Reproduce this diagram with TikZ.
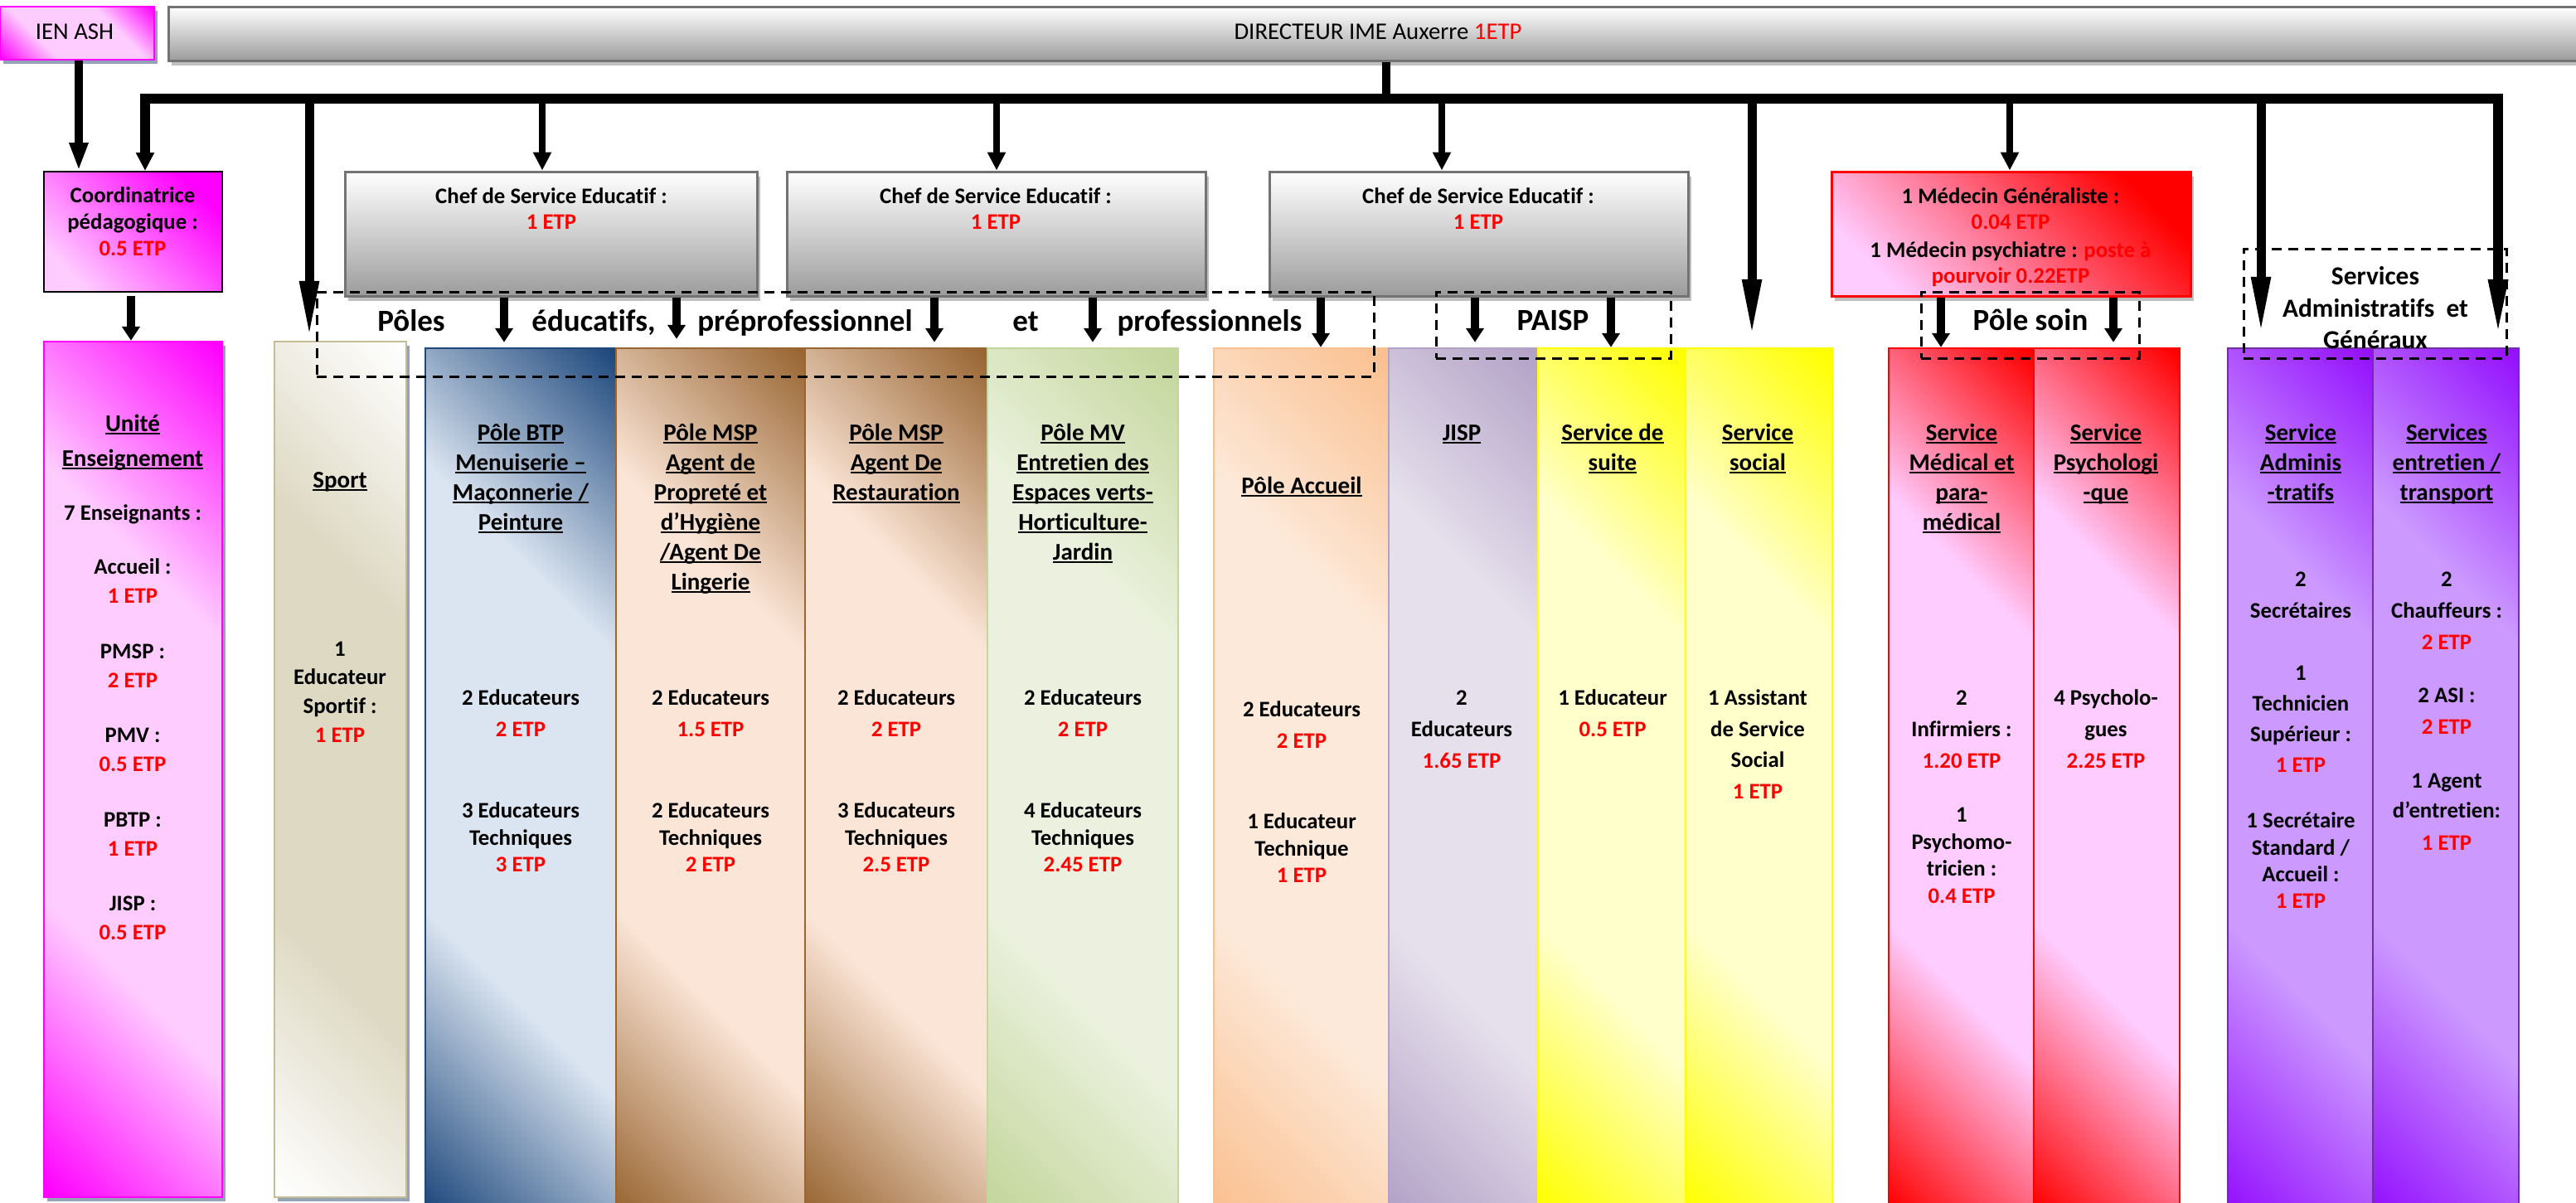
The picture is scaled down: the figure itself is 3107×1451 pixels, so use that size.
\documentclass[tikz,border=0pt]{standalone}
\usepackage{fontspec}
\setmainfont{Carlito}[Ligatures=NoCommon]
\usetikzlibrary{arrows.meta,fit,shadows}
\definecolor{etpred}{HTML}{FF0000}
\definecolor{magC}{HTML}{FF00FF}\definecolor{magL}{HTML}{FFCCFF}
\definecolor{begC}{HTML}{DDD9C3}\definecolor{begB}{HTML}{C4BD97}
\definecolor{bluC}{HTML}{1F497D}\definecolor{bluL}{HTML}{DBE5F1}
\definecolor{brnC}{HTML}{996633}\definecolor{brnL}{HTML}{FBE5D6}
\definecolor{grnC}{HTML}{C3D69B}\definecolor{grnL}{HTML}{EBF1DE}
\definecolor{orgC}{HTML}{FAC090}\definecolor{orgL}{HTML}{FDE9D9}
\definecolor{lavC}{HTML}{B3A2C7}\definecolor{lavL}{HTML}{E6E0EC}
\definecolor{yelC}{HTML}{FFFF00}\definecolor{yelL}{HTML}{FFFFCC}
\definecolor{redC}{HTML}{FF0000}\definecolor{redL}{HTML}{FFCCFF}
\definecolor{purC}{HTML}{9410FF}\definecolor{purL}{HTML}{CC99FF}\definecolor{purB}{HTML}{7030A0}
\definecolor{shadowB}{HTML}{95A3B6}\definecolor{shadowG}{HTML}{BFBFBF}
\definecolor{frameG}{HTML}{737373}
\colorlet{bandC}{black}\colorlet{bandL}{white}
\pgfdeclareverticalshading[bandC,bandL]{band}{100bp}{color(0bp)=(bandC); color(15bp)=(bandC); color(35bp)=(bandL); color(65bp)=(bandL); color(85bp)=(bandC); color(100bp)=(bandC)}
\newcommand\myul[1]{\setbox0\hbox{#1}\rlap{\rule[-1.9pt]{\wd0}{1pt}}\box0}
\newcommand\txtlines[6]{\foreach \tx [count=\i from 0] in {#6}{\node[#1] (#2\i) at (#3,{#4+\i*#5}) {\tx};}}
\newcommand\ultlines[6]{\foreach \tx [count=\i from 0] in {#6}{\node[#1] (#2\i) at (#3,{#4+\i*#5}) {\myul{\tx}};}}
\begin{document}
\begin{tikzpicture}[x=0.5pt,y=-0.5pt,
  ttl/.style={font=\fontsize{14.5}{17}\selectfont\bfseries, inner sep=0pt, text height=9.3pt, text depth=0pt},
  bdy/.style={font=\fontsize{13.4}{16}\selectfont\bfseries, inner sep=0pt, text height=8.6pt, text depth=0pt},
  rbdy/.style={bdy, text=etpred},
  big/.style={font=\fontsize{18.5}{22}\selectfont\bfseries, inner sep=0pt, text height=11.9pt, text depth=0pt},
  svc/.style={font=\fontsize{15.7}{19}\selectfont\bfseries, inner sep=0pt, text height=10.1pt, text depth=0pt},
  reg/.style={font=\fontsize{14.4}{17}\selectfont, inner sep=0pt, text height=9.3pt, text depth=0pt},
  band/.style 2 args={/utils/exec={\colorlet{bandC}{#1}\colorlet{bandL}{#2}}, shade, shading=band, shading angle=135},
  col/.style n args={3}{inner sep=0pt, draw=#3, line width=1.2pt, band={#1}{#2}},
  shB/.style={drop shadow={shadow xshift=2pt, shadow yshift=-2.5pt, fill=shadowB, opacity=1}},
  shG/.style={drop shadow={shadow xshift=2pt, shadow yshift=-3pt, fill=shadowG, opacity=1}},
  chef/.style={inner sep=0pt, draw=frameG, line width=1.5pt, top color=white, bottom color=gray!78, middle color=gray!38, shG},
  dbox/.style={draw, dash pattern=on 6pt off 4pt, line width=1.5pt, inner sep=0pt},
  arrS/.style={line width=5.3pt, -{Triangle[width=10.5pt,length=8.5pt]}},
  arrI/.style={line width=5.3pt, -{Triangle[width=10.5pt,length=17pt]}},
  arrM/.style={line width=4.3pt, -{Triangle[width=10.5pt,length=11pt]}},
  arrL/.style={line width=5.5pt, -{Triangle[width=10.5pt,length=36pt]}}
]
\useasboundingbox (0,0) rectangle (3107,1451);

% ---------- top boxes
\node[inner sep=0pt, draw=magC, line width=1.2pt, band={magC}{magL}, shB, fit={(0,8) (186,72)}] (ien) {};
\node[reg] (ient) at (90,38) {IEN ASH};
\node[inner sep=0pt, draw=frameG, line width=1.5pt, top color=white, bottom color=gray!78, middle color=gray!38, shG, fit={(203,8) (3125,73)}] (dir) {};
\node[reg] (dirt) at (1662,38) {DIRECTEUR IME Auxerre \textcolor{etpred}{1ETP}};

\node[inner sep=0pt, draw=black, line width=1pt, top color=magC, bottom color=magL, shading angle=-45, fit={(53,207) (268,352)}] (coord) {};
\node[bdy] (co1) at (160,236) {Coordinatrice};
\node[bdy] (co2) at (160,268) {pédagogique :};
\node[rbdy] (co3) at (160,300) {0.5 ETP};

\node[chef, fit={(416,207) (913,357)}] (chef1) {};
\node[chef, fit={(949,207) (1454,357)}] (chef2) {};
\node[chef, fit={(1531,207) (2036,357)}] (chef3) {};
\node[bdy] (c1a) at (665,237) {Chef de Service Educatif :};
\node[rbdy] (c1b) at (665,268) {1 ETP};
\node[bdy] (c2a) at (1201,237) {Chef de Service Educatif :};
\node[rbdy] (c2b) at (1201,268) {1 ETP};
\node[bdy] (c3a) at (1783,237) {Chef de Service Educatif :};
\node[rbdy] (c3b) at (1783,268) {1 ETP};

\node[inner sep=0pt, draw=redC, line width=1.5pt, top color=redC, bottom color=redL, shading angle=-45, shG, fit={(2209,207) (2642,357)}] (med) {};
\node[bdy] (me1) at (2425,237) {1 Médecin Généraliste :};
\node[rbdy] (me2) at (2425,268) {0.04 ETP};
\node[bdy, anchor=east] (me3) at (2506,302) {1 Médecin psychiatre :};
\node[rbdy, anchor=west] (me3r) at (2513,302) {poste à};
\node[rbdy] (me4) at (2425,333) {pourvoir 0.22ETP};

% ---------- columns
\node[col={magC}{magL}{magC}, shB, fit={(53,412) (268,1444)}] (unite) {};
\node[col={white}{begC}{begB}, shB, fit={(331,412) (490,1444)}] (sport) {};
\node[col={bluC}{bluL}{bluC}, fit={(513,420) (743,1465)}] (btp) {};
\node[col={brnC}{brnL}{brnC}, fit={(743,420) (971,1465)}] (msp1) {};
\node[col={brnC}{brnL}{brnC}, fit={(971,420) (1191,1465)}] (msp2) {};
\node[col={grnC}{grnL}{grnC}, fit={(1191,420) (1421,1465)}] (mv) {};
\node[col={orgC}{orgL}{orgC}, fit={(1464,420) (1675,1465)}] (acc) {};
\node[col={lavC}{lavL}{lavC}, fit={(1675,420) (1855,1465)}] (jisp) {};
\node[col={yelC}{yelL}{yelC}, fit={(1855,420) (2033,1465)}] (suite) {};
\node[col={yelC}{yelL}{yelC}, fit={(2033,420) (2210,1465)}] (social) {};
\node[col={redC}{redL}{redC}, fit={(2278,420) (2453,1465)}] (medic) {};
\node[col={redC}{redL}{redC}, fit={(2453,420) (2629,1465)}] (psy) {};
\node[col={purC}{purL}{purB}, fit={(2687,420) (2862,1465)}] (adm) {};
\node[col={purC}{purL}{purB}, fit={(2862,420) (3038,1465)}] (ent) {};

% Unité
\ultlines{ttl}{ut}{160}{511}{42}{Unité,Enseignement}
\node[bdy] (u7) at (160,619) {7 Enseignants :};
\txtlines{bdy}{ul}{160}{684}{101.5}{Accueil :,PMSP :,PMV :,PBTP :,JISP :}
\txtlines{rbdy}{ur}{160}{719}{101.5}{1 ETP,2 ETP,0.5 ETP,1 ETP,0.5 ETP}
% Sport
\node[ttl] (spt) at (410,579) {\myul{Sport}};
\txtlines{bdy}{sb}{410}{783}{34.3}{1,Educateur,Sportif :}
\node[rbdy] (sr) at (410,887) {1 ETP};
% BTP
\ultlines{ttl}{bt}{628}{522}{36}{Pôle BTP,Menuiserie –,Maçonnerie /,Peinture}
\node[bdy] (bb0) at (628,842) {2 Educateurs};
\node[rbdy] (bb1) at (628,880) {2 ETP};
\txtlines{bdy}{bbt}{628}{978}{33}{3 Educateurs,Techniques}
\node[rbdy] (bb3) at (628,1043) {3 ETP};
% MSP 1
\ultlines{ttl}{ma}{857}{522}{36}{Pôle MSP,Agent de,Propreté et,d’Hygiène,/Agent De,Lingerie}
\node[bdy] (mb0) at (857,842) {2 Educateurs};
\node[rbdy] (mb1) at (857,880) {1.5 ETP};
\txtlines{bdy}{mbt}{857}{978}{33}{2 Educateurs,Techniques}
\node[rbdy] (mb3) at (857,1043) {2 ETP};
% MSP 2
\ultlines{ttl}{na}{1081}{522}{36}{Pôle MSP,Agent De,Restauration}
\node[bdy] (nb0) at (1081,842) {2 Educateurs};
\node[rbdy] (nb1) at (1081,880) {2 ETP};
\txtlines{bdy}{nbt}{1081}{978}{33}{3 Educateurs,Techniques}
\node[rbdy] (nb3) at (1081,1043) {2.5 ETP};
% MV
\ultlines{ttl}{va}{1306}{522}{36}{Pôle MV,Entretien des,Espaces verts-,Horticulture-,Jardin}
\node[bdy] (vb0) at (1306,842) {2 Educateurs};
\node[rbdy] (vb1) at (1306,880) {2 ETP};
\txtlines{bdy}{vbt}{1306}{978}{33}{4 Educateurs,Techniques}
\node[rbdy] (vb3) at (1306,1043) {2.45 ETP};
% Accueil
\node[ttl] (aa) at (1570,586) {\myul{Pôle Accueil}};
\node[bdy] (ab0) at (1570,856) {2 Educateurs};
\node[rbdy] (ab1) at (1570,894) {2 ETP};
\txtlines{bdy}{abt}{1570}{991}{33}{1 Educateur,Technique}
\node[rbdy] (ab3) at (1570,1056) {1 ETP};
% JISP
\node[ttl] (ja) at (1763,522) {\myul{JISP}};
\txtlines{bdy}{jb}{1763}{842}{38}{2,Educateurs}
\node[rbdy] (jr) at (1763,918) {1.65 ETP};
% Suite
\ultlines{ttl}{sa}{1945}{522}{36}{Service de,suite}
\node[bdy] (sb0) at (1945,842) {1 Educateur};
\node[rbdy] (sb1) at (1945,880) {0.5 ETP};
% Social
\ultlines{ttl}{oa}{2120}{522}{36}{Service,social}
\txtlines{bdy}{ob}{2120}{842}{37.5}{1 Assistant,de Service,Social}
\node[rbdy] (or) at (2120,955) {1 ETP};
% Medical
\ultlines{ttl}{da}{2366}{522}{36}{Service,Médical et,para-,médical}
\txtlines{bdy}{db}{2366}{842}{38}{2,Infirmiers :}
\node[rbdy] (dr1) at (2366,918) {1.20 ETP};
\txtlines{bdy}{dc}{2366}{983}{32.5}{1,Psychomo-,tricien :}
\node[rbdy] (dr2) at (2366,1081) {0.4 ETP};
% Psycho
\ultlines{ttl}{pa}{2540}{522}{36}{Service,Psychologi,-que}
\txtlines{bdy}{pb}{2540}{842}{38}{4 Psycholo-,gues}
\node[rbdy] (pr) at (2540,918) {2.25 ETP};
% Admin
\ultlines{ttl}{ka}{2775}{522}{36}{Service,Adminis,-tratifs}
\txtlines{bdy}{kb}{2775}{699}{38}{2,Secrétaires}
\txtlines{bdy}{kc}{2775}{812}{37}{1,Technicien,Supérieur :}
\node[rbdy] (kr1) at (2775,923) {1 ETP};
\txtlines{bdy}{kd}{2775}{990}{32.5}{1 Secrétaire,Standard /,Accueil :}
\node[rbdy] (kr2) at (2775,1087) {1 ETP};
% Entretien
\ultlines{ttl}{ea}{2951}{522}{36}{Services,entretien /,transport}
\txtlines{bdy}{eb}{2951}{699}{38}{2,Chauffeurs :}
\node[rbdy] (er1) at (2951,775) {2 ETP};
\node[bdy] (ec) at (2951,839) {2 ASI :};
\node[rbdy] (er2) at (2951,877) {2 ETP};
\txtlines{bdy}{ed}{2951}{942}{36}{1 Agent,d’entretien:}
\node[rbdy] (er3) at (2951,1017) {1 ETP};

% ---------- connectors
\coordinate (busL) at (175,119);
\coordinate (busR) at (3013,119);
\coordinate (dirX) at (1672,119);
\coordinate (xien) at (95,0);
\coordinate (xcu) at (158,0);
\coordinate (xsp) at (373,0);
\coordinate (xc1) at (654,0);
\coordinate (xc2) at (1202,0);
\coordinate (xc3) at (1739,0);
\coordinate (xso) at (2113,0);
\coordinate (xme) at (2424,0);
\coordinate (xad) at (2727,0);
\coordinate (xp1) at (608,0);
\coordinate (xp2) at (816,0);
\coordinate (xp3) at (1127,0);
\coordinate (xp4) at (1318,0);
\coordinate (xp5) at (1593,0);
\coordinate (xq1) at (1779,0);
\coordinate (xq2) at (1943,0);
\coordinate (xs1) at (2341,0);
\coordinate (xs2) at (2549,0);

\draw[line width=4.6pt] (dir.south -| dirX) -- (dirX);
\draw[line width=5.8pt, {Triangle[width=10.5pt,length=11pt]}-{Triangle[width=10.5pt,length=36pt]}, shorten >=5pt]
  (coord.north -| busL) -- (busL) -- (busR) -- (ent.north -| busR);
\draw[arrI] (ien.south -| xien) -- (coord.north -| xien);
\draw[arrL] (xsp |- busL) -- (sport.north -| xsp);
\draw[arrM] (xc1 |- busL) -- (chef1.north -| xc1);
\draw[arrM] (xc2 |- busL) -- (chef2.north -| xc2);
\draw[arrM] (xc3 |- busL) -- (chef3.north -| xc3);
\draw[arrM] (xme |- busL) -- (med.north -| xme);
\draw[arrL, shorten >=5pt] (xso |- busL) -- (social.north -| xso);
\draw[arrL, shorten >=6.5pt] (xad |- busL) -- (adm.north -| xad);
\draw[arrS, shorten <=2pt] (coord.south -| xcu) -- (unite.north -| xcu);
\draw[arrS, shorten >=3pt] (chef1.south -| xp1) -- (btp.north -| xp1);
\draw[arrS, shorten >=5pt] (chef1.south -| xp2) -- (msp1.north -| xp2);
\draw[arrS, shorten >=3pt] (chef2.south -| xp3) -- (msp2.north -| xp3);
\draw[arrS, shorten >=3pt] (chef2.south -| xp4) -- (mv.north -| xp4);
\draw[arrS] (chef3.south -| xp5) -- (acc.north -| xp5);
\draw[arrS, shorten >=3pt] (chef3.south -| xq1) -- (jisp.north -| xq1);
\draw[arrS] (chef3.south -| xq2) -- (suite.north -| xq2);
\draw[arrS] (med.south -| xs1) -- (medic.north -| xs1);
\draw[arrS, shorten >=3pt] (med.south -| xs2) -- (psy.north -| xs2);

% ---------- dashed groups
\node[dbox, fit={(382,352) (1657,454)}] (polesbox) {};
\node[dbox, fit={(1732,352) (2015,432)}] (paispbox) {};
\node[dbox, fit={(2317,352) (2580,432)}] (soinbox) {};
\node[dbox, fit={(2706,300) (3023,432)}] (sagbox) {};

\node[big] (w1) at (496,388) {Pôles};
\node[big] (w2) at (716,388) {éducatifs,};
\node[big] (w3) at (971,388) {préprofessionnel};
\node[big] (w4) at (1237,388) {et};
\node[big] (w5) at (1459,388) {professionnels};
\node[big] (paisp) at (1873,387) {PAISP};
\node[big] (soin) at (2449,387) {Pôle soin};
\node[svc] (sg1) at (2865,333) {Services};
\node[svc] (sg2) at (2865,372) {Administratifs~ et};
\node[svc] (sg3) at (2865,410) {Généraux};
\end{tikzpicture}
\end{document}
